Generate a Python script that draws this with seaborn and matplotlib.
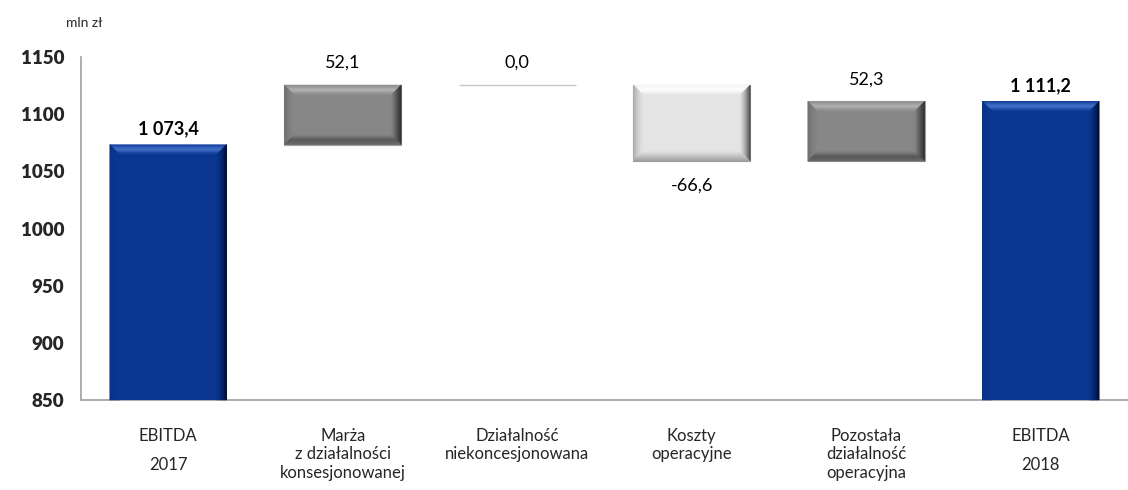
import pandas as pd
import numpy as np
import matplotlib
matplotlib.use("Agg")
import matplotlib.pyplot as plt
from matplotlib.patches import Polygon
from matplotlib.colors import to_rgb
import seaborn as sns

# data (mln zł)
categories = ["EBITDA\n2017", "Marża\nz działalności\nkonsesjonowanej", "Działalność\nniekoncesjonowana",
              "Koszty\noperacyjne", "Pozostała\ndziałalność\noperacyjna", "EBITDA\n2018"]
deltas = [1073.4, 52.1, 0.0, -66.6, 52.3, 1111.2]
kinds = ["total", "delta", "delta", "delta", "delta", "total"]
value_labels = ["1 073,4", "52,1", "0,0", "-66,6", "52,3", "1 111,2"]
y_ticks = [850, 900, 950, 1000, 1050, 1100, 1150]

# waterfall bottoms / heights
bottoms, heights = [], []
running = 0.0
for d, k in zip(deltas, kinds):
    if k == "total":
        bottoms.append(0.0)
        heights.append(d)
        running = d
    else:
        lo = min(running, running + d)
        bottoms.append(lo)
        heights.append(abs(d))
        running += d

df = pd.DataFrame({"cat": categories, "h": heights})

sns.set_style("white")
plt.rcParams["font.family"] = ["Lato", "DejaVu Sans"]

fig = plt.figure(figsize=(11.28, 4.9), dpi=100)
ax = fig.add_axes([81 / 1128, 1 - 400 / 490, 1047 / 1128, 343 / 490])

sns.barplot(data=df, x="cat", y="h", bottom=bottoms, color="#0a3690", width=0.67,
            errorbar=None, ax=ax, linewidth=0, zorder=3)

ax.set_ylim(850, 1150)
ax.set_xlim(-0.5, 5.45)
ax.set_yticks(y_ticks)
ax.set_yticklabels([str(t) for t in y_ticks], fontsize=13.5, fontweight="heavy")
ax.set_xticks(range(len(categories)))
ax.set_xticklabels(categories, fontsize=12)
for i, t in enumerate(ax.get_xticklabels()):
    if kinds[i] == "total":
        t.set_linespacing(2.0)
ax.set_xticks(np.arange(-0.5, 5.6, 1.0), minor=True)
ax.tick_params(axis="x", which="major", length=0, pad=20)
ax.tick_params(axis="x", which="minor", length=6, color="#a0a0a0", width=1.2, direction="out")
ax.tick_params(axis="y", length=6, color="#a0a0a0", width=1.2, direction="out", pad=6)
ax.set_xlabel("")
ax.set_ylabel("")
for s in ["top", "right"]:
    ax.spines[s].set_visible(False)
for s in ["left", "bottom"]:
    ax.spines[s].set_color("#a0a0a0")
    ax.spines[s].set_linewidth(1.2)

face = {"total": "#0a3690", "up": "#878787", "down": "#e4e4e4"}
# bevel ramps per side (outer edge -> middle), then fades to face: top, left, right, bottom
bevel = {"total": [("#123f9a", "#4a78d0"), ("#0a3085", "#0a3690"), ("#00081c", "#06256a"), None],
         "up": [("#8c8c8c", "#b4b4b4"), ("#6c6c6c", "#7e7e7e"), ("#262626", "#555555"), ("#6a6a6a", "#555555")],
         "down": [("#f4f4f4", "#ffffff"), ("#a8a8a8", "#cfcfcf"), ("#3a3a3a", "#a0a0a0"), ("#9a9a9a", "#bdbdbd")]}


def mix(a, b, t):
    a, b = np.array(to_rgb(a)), np.array(to_rgb(b))
    return tuple(a + (b - a) * t)


fig.canvas.draw()
ybase = ax.transData.transform((0, 850))[1]
nb = 10
for i, p in enumerate(ax.patches):
    k = kinds[i]
    if k == "delta":
        k = "up" if deltas[i] > 0 else ("down" if deltas[i] < 0 else "zero")
    if k == "zero":
        p.set_facecolor("none")
        p.set_edgecolor("#c8c8c8")
        p.set_linewidth(1.0)
        continue
    p.set_facecolor(face[k])
    if k != "total":
        p.set_edgecolor("#a0a0a0")
        p.set_linewidth(0.8)
    bb = p.get_window_extent()
    x0, x1, y0, y1 = bb.x0, bb.x1, max(bb.y0, ybase), bb.y1
    b = 10.0
    is_total = k == "total"
    for side, ramp in enumerate(bevel[k]):
        if ramp is None:
            continue
        for j in range(nb):
            a, c = b * j / nb, b * (j + 1) / nb
            t = (j + 0.5) / nb
            col = mix(ramp[0], ramp[1], t / 0.5) if t < 0.5 else mix(ramp[1], face[k], (t - 0.5) / 0.5)
            if side == 0:
                poly = [(x0 + a, y1 - a), (x1 - a, y1 - a), (x1 - c, y1 - c), (x0 + c, y1 - c)]
            elif side == 1:
                lo_a, lo_c = (y0, y0) if is_total else (y0 + a, y0 + c)
                poly = [(x0 + a, lo_a), (x0 + a, y1 - a), (x0 + c, y1 - c), (x0 + c, lo_c)]
            elif side == 2:
                lo_a, lo_c = (y0, y0) if is_total else (y0 + a, y0 + c)
                poly = [(x1 - a, lo_a), (x1 - a, y1 - a), (x1 - c, y1 - c), (x1 - c, lo_c)]
            else:
                poly = [(x0 + a, y0 + a), (x1 - a, y0 + a), (x1 - c, y0 + c), (x0 + c, y0 + c)]
            ax.add_patch(Polygon(poly, closed=True, transform=None, facecolor=col,
                                 edgecolor=col, linewidth=0.3, zorder=3.1, clip_on=False))

# value labels
for i, (lab, k) in enumerate(zip(value_labels, kinds)):
    top = bottoms[i] + heights[i]
    if k == "total":
        ax.annotate(lab, (i, top), xytext=(0, 5), textcoords="offset points",
                    ha="center", va="bottom", fontsize=13, fontweight="bold", color="black")
    elif deltas[i] < 0:
        ax.annotate(lab, (i, bottoms[i]), xytext=(0, -12), textcoords="offset points",
                    ha="center", va="top", fontsize=13, color="black")
    else:
        ax.annotate(lab, (i, top), xytext=(0, 10), textcoords="offset points",
                    ha="center", va="bottom", fontsize=13, color="black")

fig.text(84 / 1128, 1 - 23 / 490, "mln zł", ha="center", va="center", fontsize=10)

fig.savefig("out.png", dpi=100)
